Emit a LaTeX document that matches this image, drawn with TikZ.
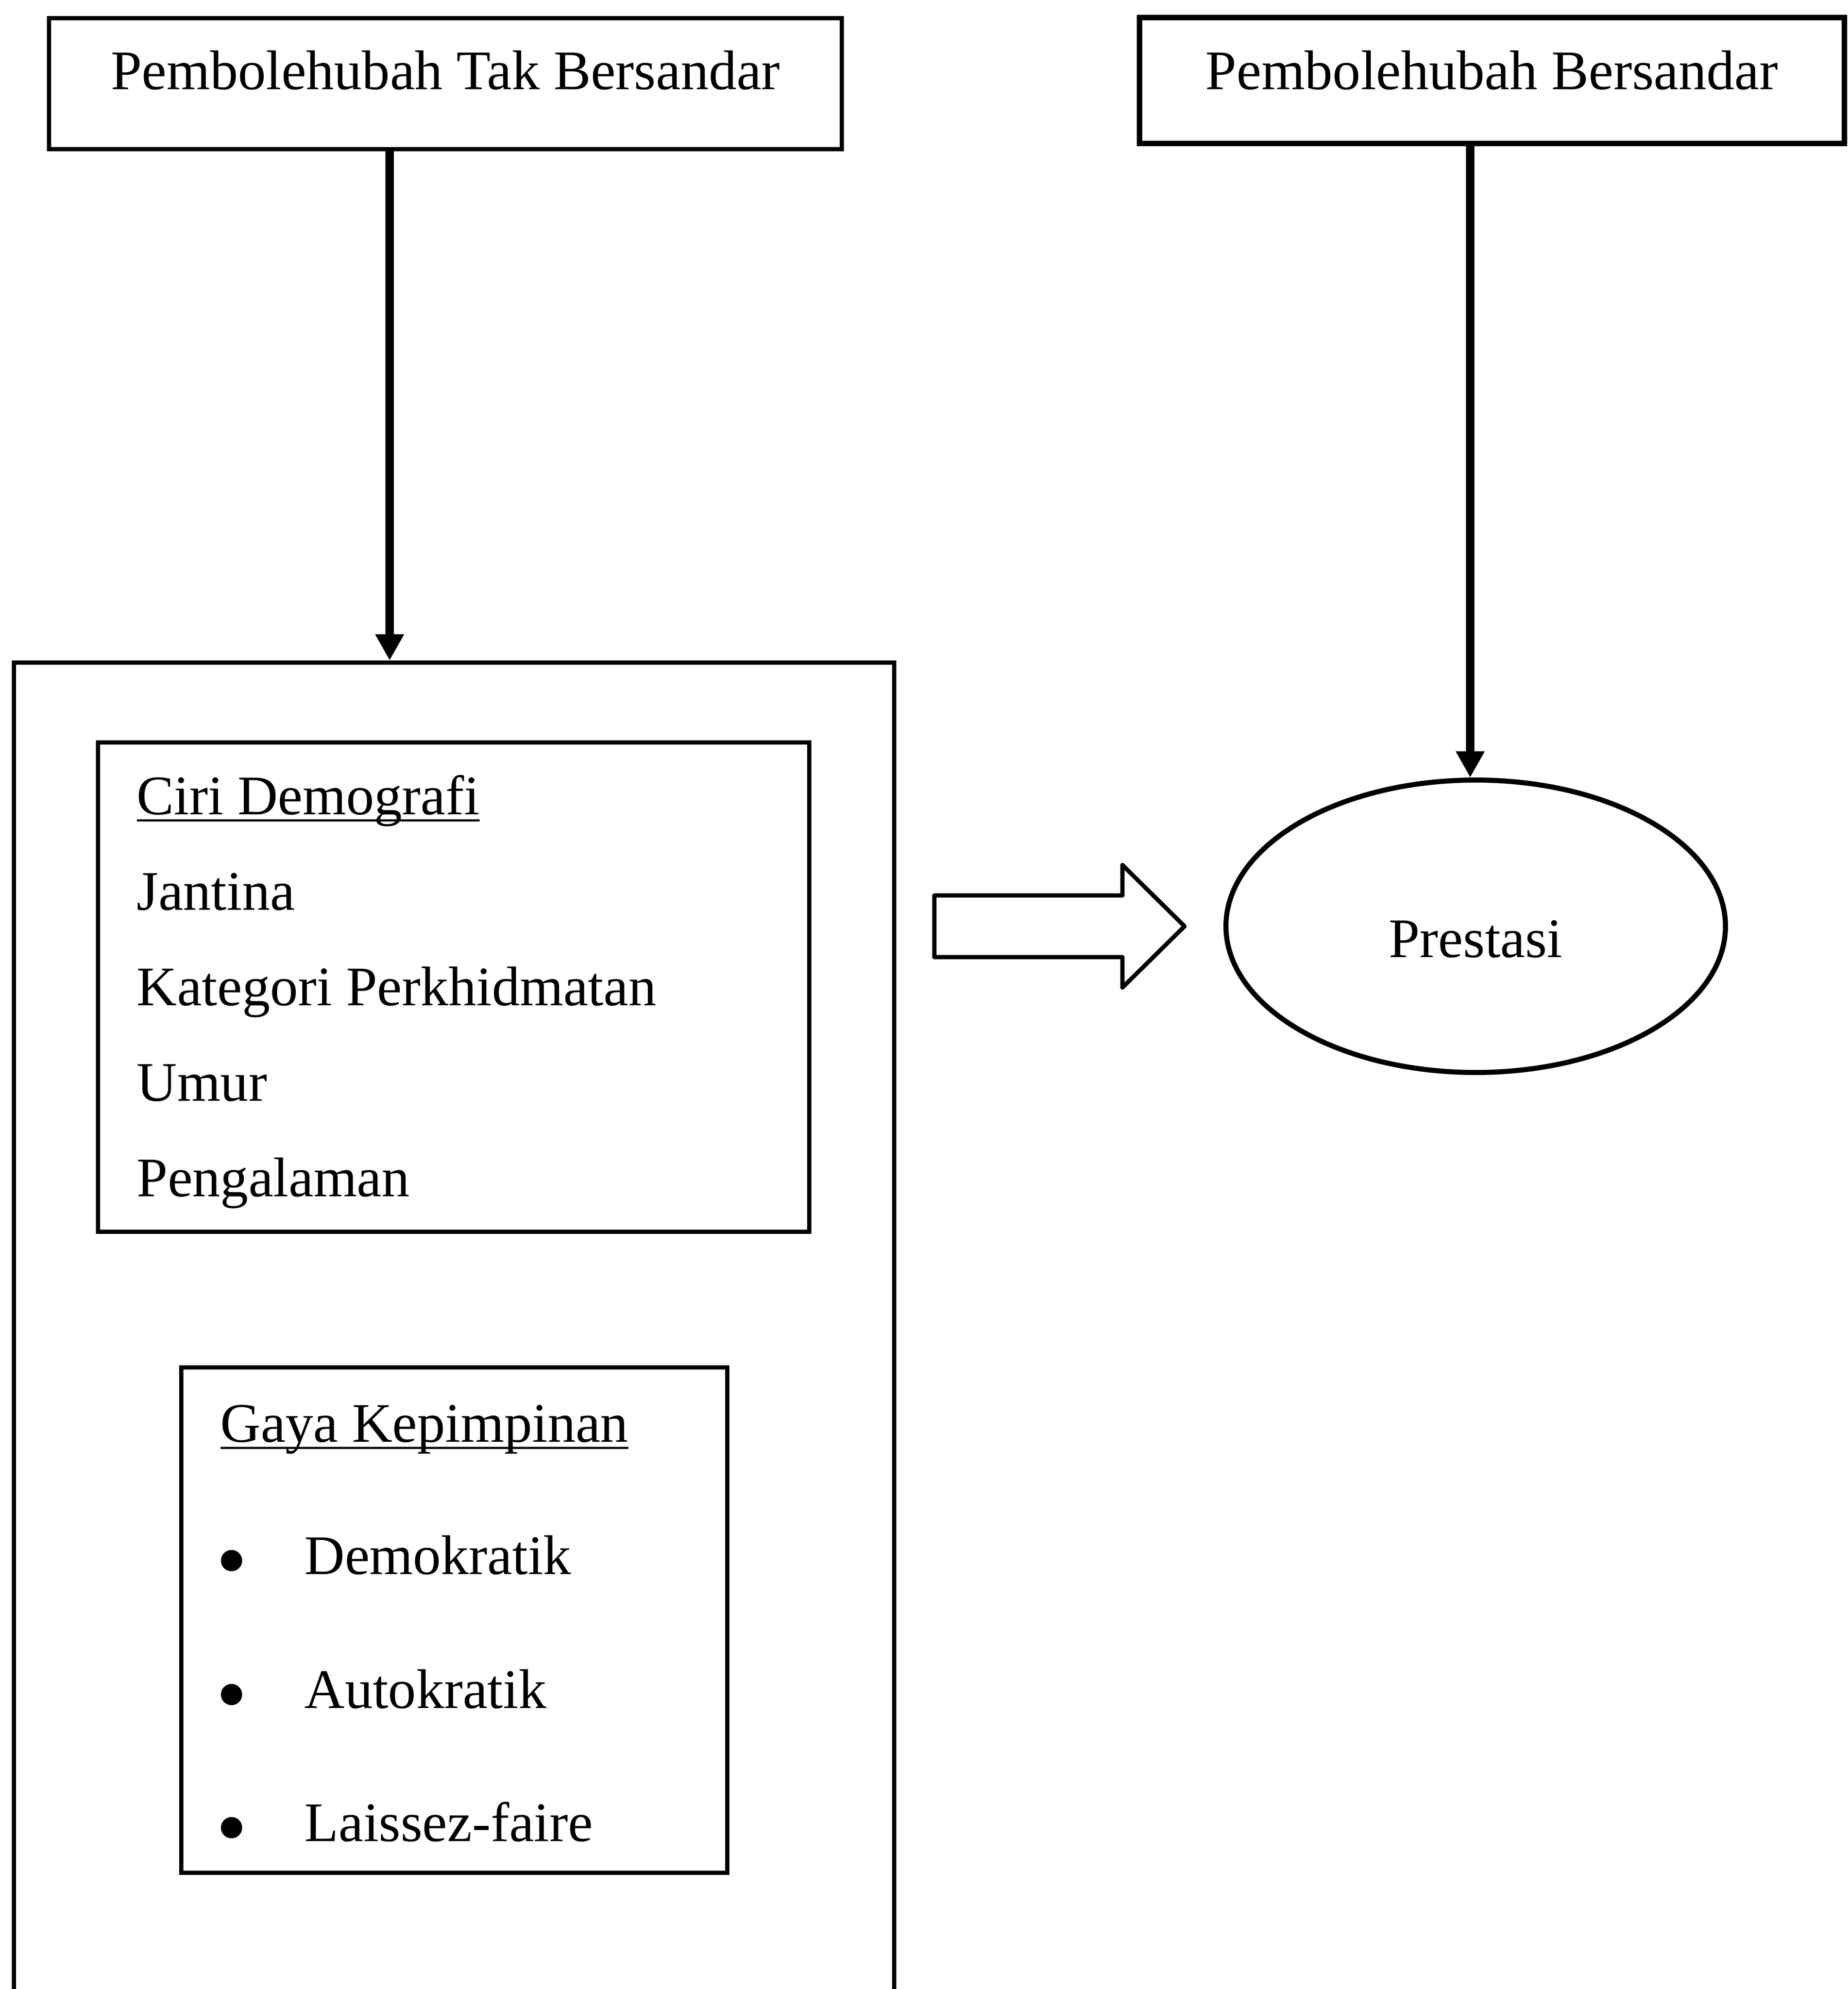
\documentclass[tikz,border=0pt]{standalone}
\usepackage{fontspec}
\setmainfont{Liberation Serif}
\usepackage{tikz}
\usetikzlibrary{positioning,shapes.geometric,arrows.meta}
\newcommand{\underword}[1]{\setbox0\hbox{#1}\rlap{\rule[-1.7mm]{\wd0}{0.5mm}}#1}
\tikzset{
    header/.style={
        rectangle,
        draw=black,
        line width=1mm,
        inner sep=0pt,
        anchor=base
    },
    frame/.style={
        rectangle,
        draw=black,
        line width=1mm,
        inner sep=0pt,
        anchor=north west
    },
    item/.style={
        inner sep=0pt,
        anchor=base west
    },
    bulletmark/.style={
        inner sep=0pt,
        anchor=base,
        font=\fontsize{60pt}{64pt}\selectfont
    },
    arrow/.style={
        -{Triangle[length=6.2mm,width=6.4mm]},
        line width=2mm
    }
}

\begin{document}
\begin{tikzpicture}[font=\fontsize{37.6pt}{45pt}\selectfont]
          \useasboundingbox (0,0) rectangle (43.73,-47.07);
          % variables
          \node (iv) [header, minimum width=18.76cm, text height=1.68cm, text depth=1.42cm] at (10.54,-2.11) {Pembolehubah Tak Bersandar};
          \node (dv) [header, line width=1.3mm, minimum width=16.68cm, text height=1.70cm, text depth=1.28cm] at (35.30,-2.11) {Pembolehubah Bersandar};
          % left group
          \node (outer) [frame, minimum width=20.83cm, minimum height=33cm] at (0.28,-15.63) {};
          \node (ciri) [frame, minimum width=16.83cm, minimum height=11.58cm] at (2.27,-17.52) {};
          \node (demog) [item] at ([xshift=0.96cm, yshift=-1.75cm]ciri.north west) {\underword{Ciri Demografi}};
          \node (jantina) [item, below=2.26cm of demog.base west, anchor=base west] {Jantina};
          \node (kategori) [item, below=2.26cm of jantina.base west, anchor=base west] {Kategori Perkhidmatan};
          \node (umur) [item, below=2.26cm of kategori.base west, anchor=base west] {Umur};
          \node (pengalaman) [item, below=2.26cm of umur.base west, anchor=base west] {Pengalaman};
          \node (gaya) [frame, minimum width=12.92cm, minimum height=11.96cm] at (4.24,-32.31) {};
          \node (gayatitle) [item] at ([xshift=0.97cm, yshift=-1.81cm]gaya.north west) {\underword{Gaya Kepimpinan}};
          \node (demok) [item, below right=3.13cm and 1.99cm of gayatitle.base west, anchor=base west] {Demokratik};
          \node (autok) [item, below=3.17cm of demok.base west, anchor=base west] {Autokratik};
          \node (laissez) [item, below=3.15cm of autok.base west, anchor=base west] {Laissez-faire};
          \node (dota) [bulletmark] at ([xshift=-1.72cm, yshift=-0.38cm]demok.base west) {\textbullet};
          \node (dotb) [bulletmark] at ([xshift=-1.72cm, yshift=-0.38cm]autok.base west) {\textbullet};
          \node (dotc) [bulletmark] at ([xshift=-1.72cm, yshift=-0.38cm]laissez.base west) {\textbullet};
          % result
          \node (prestasi) [ellipse, draw=black, line width=1.2mm, inner sep=0pt, minimum width=11.82cm, minimum height=6.92cm, text height=1.47cm, text depth=0pt] at (34.92,-21.92) {Prestasi};
          \draw [arrow] (9.22,0 |- iv.south) -- (9.22,0 |- outer.north);
          \draw [arrow] (34.79,0 |- dv.south) -- (34.79,0 |- prestasi.north);
          \draw [line width=1mm, line join=round] (22.11,-21.19) -- (26.56,-21.19) -- (26.56,-20.47) -- (28.03,-21.92) -- (26.56,-23.37) -- (26.56,-22.65) -- (22.11,-22.65) -- cycle;
        \end{tikzpicture}
\end{document}
